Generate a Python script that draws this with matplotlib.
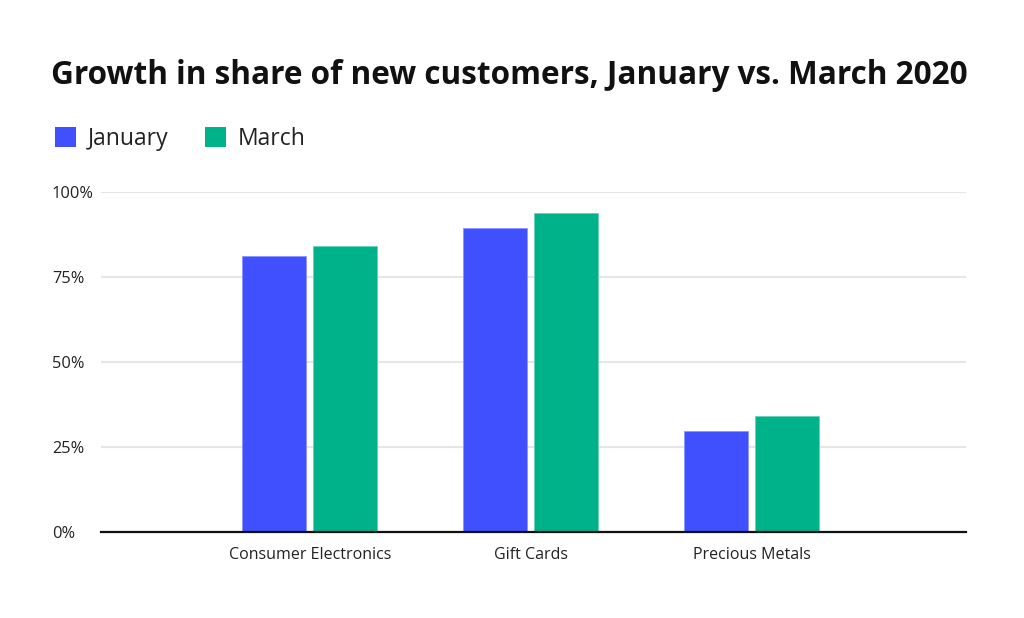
import matplotlib
matplotlib.use("Agg")
import matplotlib.pyplot as plt
import numpy as np
from matplotlib.patches import Patch

categories = ["Consumer Electronics", "Gift Cards", "Precious Metals"]
january = [81.2, 89.3, 29.8]
march = [84.1, 93.7, 34.1]
series_names = ["January", "March"]
yticks = [0, 25, 50, 75, 100]
ytick_labels = ["0%", "25%", "50%", "75%", "100%"]

BLUE = "#4050FF"
GREEN = "#00B28A"

plt.rcParams['font.family'] = ['Open Sans', 'DejaVu Sans']

fig = plt.figure(figsize=(10.24, 6.18), dpi=100)
ax = fig.add_axes([101/1024, 1-532/618, (965.7-101)/1024, (532-192)/618])

x = np.arange(len(categories))
w = 0.29
off = 0.161
ax.bar(x - off, january, width=w, color=BLUE, edgecolor="#8a94ff", linewidth=0.6, zorder=3)
ax.bar(x + off, march, width=w, color=GREEN, edgecolor="#66d3b9", linewidth=0.6, zorder=3)

ax.set_xlim(-0.945, 2.97)
ax.set_ylim(0, 100)
ax.set_yticks(yticks)
ax.set_yticklabels(ytick_labels)
ax.set_xticks(x)
ax.set_xticklabels(categories)
ax.tick_params(axis='both', length=0, colors="#222222")
ax.tick_params(axis='x', labelsize=11.5, pad=11)
ax.tick_params(axis='y', labelsize=11.8, pad=35.3)
for lab in ax.get_yticklabels():
    lab.set_horizontalalignment('left')
ax.yaxis.grid(True, color="#e6e6e6", linewidth=1.5, zorder=0)
ax.set_axisbelow(True)
for s in ["top", "right", "left"]:
    ax.spines[s].set_visible(False)
ax.spines["bottom"].set_color("#111111")
ax.spines["bottom"].set_linewidth(1.6)
ax.spines["bottom"].set_zorder(4)

fig.text(51/1024, 1-75/618, "Growth in share of new customers, January vs. March 2020",
         fontsize=22.7, fontweight='bold', ha='left', va='center', color="#111111")

handles = [Patch(facecolor=BLUE, edgecolor='none'), Patch(facecolor=GREEN, edgecolor='none')]
fig.legend(handles, series_names, loc='center left', bbox_to_anchor=(34/1024, 1-139/618),
           ncol=2, frameon=False, fontsize=16.5, handlelength=0.92, handleheight=0.92,
           handletextpad=0.52, columnspacing=1.6, labelcolor="#222222")

fig.savefig("out.png", dpi=100, facecolor="white")
